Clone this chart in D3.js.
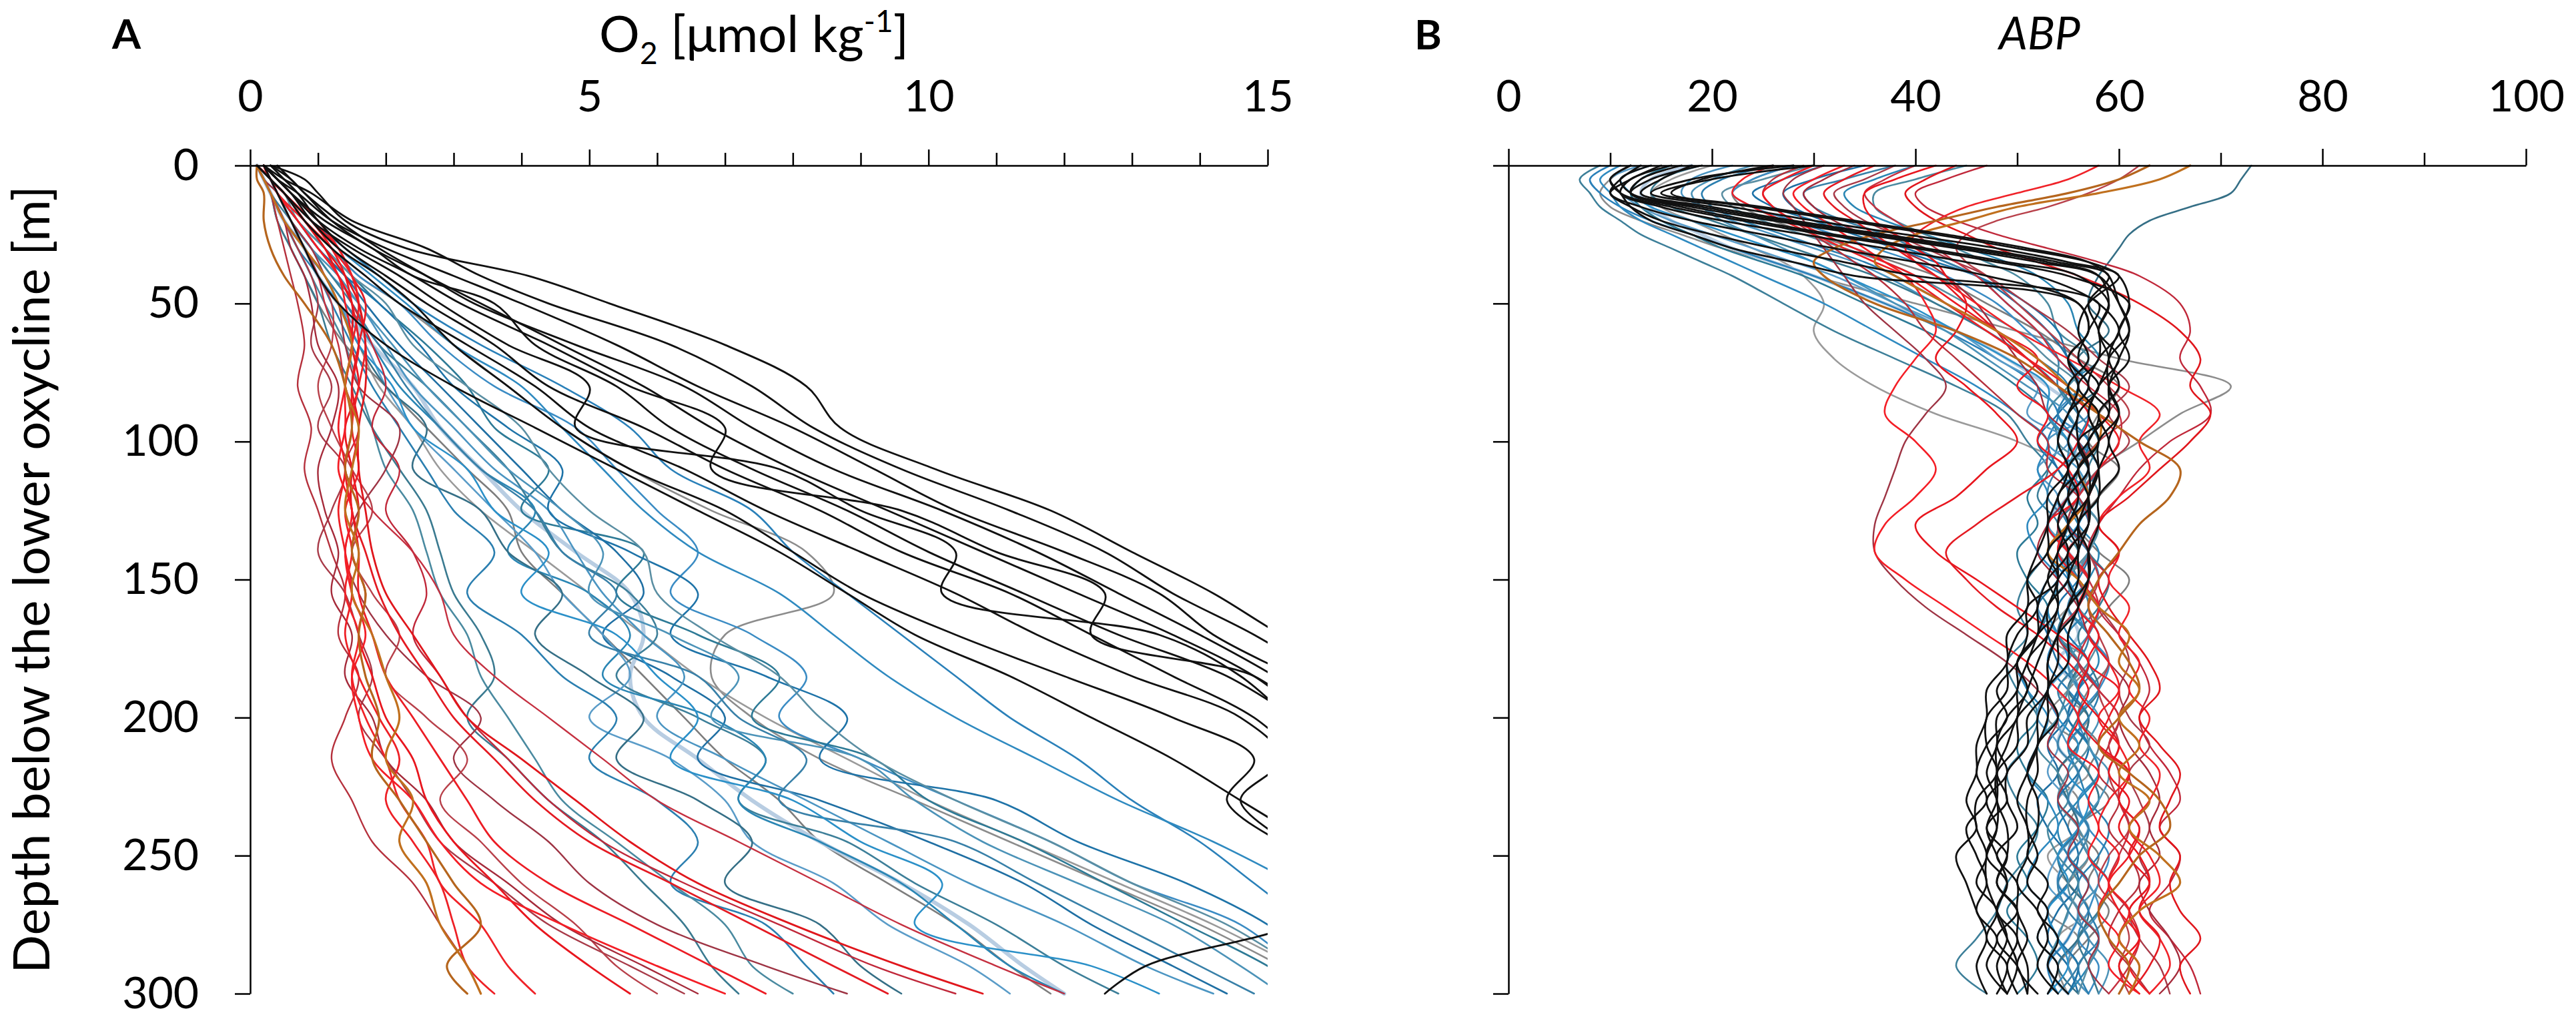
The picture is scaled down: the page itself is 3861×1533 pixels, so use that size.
<!DOCTYPE html>
<html>
<head>
<meta charset="utf-8">
<script src="https://cdn.jsdelivr.net/npm/d3@7"></script>
<style>
  body { margin: 0; background: #fff; }
  .axis path, .axis line { stroke: #000; stroke-width: 2.5; }
  .profile { fill: none; stroke-linejoin: round; stroke-linecap: round; }
</style>
</head>
<body>
<script>
// depth grids [m below the lower oxycline]
const depthA = [0,5,10,20,30,40,50,65,80,95,110,125,140,155,170,185,200,215,230,245,260,275,290,300];
const depthB = [0,5,10,15,20,25,30,35,40,50,60,70,80,90,100,110,120,130,140,150,160,170,180,190,200,210,220,230,240,250,260,270,280,290,300];

const o2Ticks = d3.range(0, 16);
const o2TickLabels = [0, 5, 10, 15];
const abpTicks = d3.range(0, 101, 10);
const abpTickLabels = [0, 20, 40, 60, 80, 100];
const depthTicks = [0, 50, 100, 150, 200, 250, 300];

// O2 profiles, one array per cast, values on depthA
const o2Black = [
  [0.3,0.8,1.0,1.4,2.3,4.1,5.3,7.0,8.2,8.7,10.1,11.8,13.0,14.2,15.2,16.4],
  [0.2,0.5,0.9,1.5,2.6,3.4,4.4,6.2,7.4,8.3,9.6,11.2,12.6,13.6,14.8,15.8],
  [0.2,0.4,0.7,1.2,2.0,3.0,4.0,5.4,6.6,8.0,9.2,10.4,12.0,13.4,14.2,15.4],
  [0.3,0.6,0.8,1.3,1.9,2.6,3.3,4.8,6.4,7.4,8.6,10.2,11.6,12.8,14.0,15.1,16.0],
  [0.2,0.4,0.6,1.0,1.6,2.4,3.1,4.4,5.6,7.0,6.8,9.6,11.0,12.6,12.4,14.8,15.6],
  [0.1,0.3,0.5,0.9,1.5,2.2,2.8,3.8,5.0,4.8,7.8,9.0,10.4,10.2,13.4,14.6,15.3],
  [0.2,0.4,0.6,1.1,1.8,2.4,3.6,4.2,5.4,6.2,7.4,8.8,10.0,11.4,12.8,14.4,15.4],
  [0.3,0.5,0.7,1.0,1.4,2.0,2.6,3.6,4.4,5.8,7.0,8.4,9.6,11.2,12.4,13.6,14.8,15.5],
  [0.1,0.3,0.5,0.8,1.2,1.7,2.2,3.2,4.2,5.0,6.4,7.6,9.0,10.4,11.6,13.0,14.6,15.2,14.6,15.3],
  [0.2,0.4,0.6,0.9,1.3,1.9,2.4,3.0,3.8,4.6,5.6,7.0,8.0,9.0,10.4,12.0,13.6,14.8,14.4,15.2],
  [0.2,0.3,0.4,0.6,0.8,1.0,1.3,2.0,3.0,4.2,5.4,6.6,7.8,8.8,9.8,11.2,12.4,13.6,14.6,15.6],
  [0.4,0.6,0.8,1.2,1.8,2.6,3.4,4.6,5.8,6.8,8.0,9.4,10.8,12.2,13.6,14.8,15.6,16.4,17.0,17.2,16.4,15.4,13.2,12.6]
];
const o2Blue = [
  [0.2,0.3,0.5,0.9,1.4,1.9,2.4,3.4,4.6,5.6,6.2,7.4,8.0,8.8,9.6,10.4,11.2,12.2,13.0,14.0,14.8,15.6],
  [0.2,0.3,0.4,0.8,1.2,1.6,2.2,2.8,3.6,4.8,5.4,6.0,6.6,6.2,7.4,8.2,7.8,9.0,10.4,11.8,13.0,14.6,15.4],
  [0.1,0.3,0.4,0.7,1.1,1.5,1.9,2.6,3.2,3.6,4.4,4.0,5.8,5.4,6.6,7.8,7.4,9.2,10.0,11.4,12.6,13.8,15.0,15.6],
  [0.2,0.3,0.4,0.7,1.0,1.4,1.7,2.2,2.8,3.4,4.0,4.6,5.4,5.8,5.2,6.2,7.0,6.6,8.4,10.0,11.4,12.4,13.6,14.4],
  [0.2,0.3,0.4,0.6,0.9,1.2,1.6,2.0,2.4,3.0,3.6,4.4,4.8,5.2,5.8,6.4,6.0,7.0,8.2,9.4,10.6,12.0,13.2,14.2],
  [0.1,0.2,0.3,0.6,0.9,1.2,1.5,1.9,2.6,3.2,3.8,4.2,4.6,5.6,6.0,5.4,6.6,7.6,7.2,8.8,9.8,11.0,12.0,12.8],
  [0.2,0.3,0.4,0.6,0.8,1.1,1.4,1.8,2.2,2.8,3.4,4.2,3.8,5.0,5.6,5.2,6.8,7.6,7.2,8.4,9.6,10.4,11.2,12.0],
  [0.1,0.2,0.3,0.5,0.8,1.0,1.3,1.7,2.0,2.4,3.0,3.6,4.2,4.6,5.2,5.6,5.0,6.2,7.0,7.4,8.6,9.4,10.6,11.2],
  [0.2,0.3,0.4,0.6,0.8,1.1,1.3,1.6,2.0,2.6,2.4,3.4,3.8,4.6,4.2,5.0,5.8,5.4,6.6,7.4,7.0,8.4,9.0,9.6],
  [0.1,0.2,0.3,0.5,0.7,1.0,1.2,1.5,1.8,2.2,2.6,3.0,3.6,3.2,4.0,4.6,5.4,5.0,6.0,6.6,6.2,7.6,8.2,8.6],
  [0.1,0.2,0.3,0.5,0.7,0.9,1.1,1.4,1.6,1.8,2.0,2.4,2.6,2.8,3.2,3.4,3.8,4.2,4.6,5.4,6.2,7.0,7.4,8.0],
  [0.1,0.2,0.3,0.4,0.6,0.8,1.0,1.2,1.5,1.8,2.2,2.6,2.8,3.0,3.4,3.6,3.2,3.8,4.4,5.2,5.8,6.4,6.8,7.2],
  [0.2,0.3,0.5,0.9,1.3,1.8,2.3,3.0,4.0,4.6,5.2,5.8,6.6,7.8,8.6,9.4,10.4,11.6,12.8,14.2,15.4],
  [0.2,0.3,0.4,0.7,1.0,1.4,1.9,2.5,3.0,3.8,4.6,4.4,5.6,6.6,6.2,7.6,8.8,8.4,11.0,12.2,13.8,15.0,15.8],
  [0.1,0.2,0.4,0.6,0.9,1.3,1.6,2.1,2.6,3.2,3.8,4.6,5.2,5.0,6.2,7.2,6.8,9.0,9.8,10.8,12.2,13.6,14.6,15.2],
  [0.2,0.3,0.4,0.6,0.8,1.1,1.4,1.9,2.3,2.8,3.4,4.2,4.6,5.4,5.0,6.6,7.2,8.2,7.8,10.4,11.6,12.8,14.0,14.8],
  [0.1,0.2,0.3,0.5,0.8,1.0,1.3,1.6,2.1,2.4,3.2,3.6,4.4,4.0,5.4,6.0,6.6,6.2,8.0,9.0,10.2,9.8,12.4,13.4],
  [0.2,0.3,0.5,0.7,1.1,1.5,2.0,2.4,3.2,4.0,4.4,5.0,5.8,6.0,6.8,7.8,8.4,9.2,10.4,11.8,13.0,14.4,15.4]
];
const o2Red = [
  [0.2,0.3,0.5,0.9,1.2,1.4,1.5,1.6,1.5,1.5,1.4,1.5,1.6,1.6,1.8,2.0,2.4,2.8,3.2,3.6,4.4,5.6,6.8,7.6],
  [0.2,0.3,0.5,0.8,1.1,1.3,1.5,1.5,1.6,1.4,1.5,1.6,1.5,1.7,1.6,1.8,2.0,2.4,2.6,3.0,3.6,4.2,5.0,5.6],
  [0.1,0.3,0.4,0.8,1.2,1.5,1.6,1.7,1.6,1.5,1.6,1.4,1.5,1.4,1.6,1.5,1.7,2.0,2.2,2.6,2.8,3.4,3.8,4.2],
  [0.2,0.3,0.5,0.9,1.3,1.5,1.7,1.6,1.5,1.6,1.5,1.5,1.7,1.9,2.2,2.6,3.0,3.6,4.2,5.0,6.2,7.4,8.6,9.4],
  [0.2,0.4,0.6,1.0,1.3,1.5,1.6,1.5,1.4,1.3,1.4,1.3,1.4,1.5,1.4,1.6,1.9,2.2,2.0,2.4,2.8,3.0,3.2,3.6],
  [0.2,0.3,0.5,0.8,1.1,1.4,1.6,1.7,1.7,1.6,1.6,1.7,1.8,2.0,2.4,2.8,3.2,4.0,4.8,5.6,6.6,8.0,9.6,10.8],
  [0.1,0.3,0.4,0.7,1.0,1.3,1.4,1.5,1.4,1.4,1.3,1.5,1.4,1.5,1.7,1.5,1.6,1.8,2.4,2.8,3.4,4.6,6.0,7.0]
];
const o2DarkRed = [
  [0.1,0.2,0.3,0.4,0.5,0.6,0.7,0.8,0.7,0.9,0.8,1.0,1.2,1.4,1.3,1.6,1.4,1.2,1.5,1.8,2.4,2.8,3.2,3.4],
  [0.1,0.2,0.3,0.5,0.7,0.9,1.0,0.9,1.2,1.0,1.4,1.2,1.0,1.4,1.6,1.8,1.6,2.0,2.4,2.8,3.6,4.4,5.6,6.4],
  [0.2,0.3,0.4,0.7,1.0,1.3,1.5,1.8,2.0,1.8,2.2,2.0,2.4,2.6,2.4,2.8,3.2,3.8,4.4,5.2,6.4,7.8,9.2,10.4],
  [0.1,0.2,0.4,0.6,0.9,1.1,1.3,1.4,1.6,2.2,2.0,1.6,1.4,1.6,2.0,2.6,3.4,3.0,3.6,4.4,5.0,6.0,7.6,8.8],
  [0.2,0.3,0.4,0.6,0.8,1.0,1.2,1.2,1.0,1.2,1.5,1.8,1.5,1.8,2.2,2.0,2.6,3.2,2.8,3.4,4.0,4.8,5.4,6.0],
  [0.1,0.2,0.3,0.5,0.8,1.0,1.1,1.3,1.4,1.6,1.4,1.8,2.4,2.8,3.0,3.6,4.4,5.2,6.0,7.2,8.4,9.6,11.0,12.0],
  [0.1,0.2,0.3,0.5,0.6,0.8,0.9,1.0,1.3,1.2,1.0,1.1,1.3,1.2,1.5,1.4,1.8,2.0,2.6,3.0,3.8,4.6,5.8,6.6]
];
const o2Orange = [
  [0.1,0.1,0.2,0.2,0.3,0.5,0.8,1.2,1.4,1.5,1.4,1.6,1.5,1.7,1.6,1.7,1.9,1.8,2.2,2.6,3.0,3.4,2.9,3.2],
  [0.1,0.2,0.3,0.5,0.8,1.1,1.3,1.5,1.4,1.6,1.5,1.4,1.6,1.5,1.8,2.0,2.2,2.0,2.4,2.2,2.6,2.8,3.2,3.4]
];
const o2Grey = [
  [0.2,0.3,0.5,0.8,1.2,1.6,2.2,3.0,3.8,4.6,5.6,6.8,8.2,8.6,7.0,6.8,7.4,8.4,9.8,11.2,12.6,14.0,15.2],
  [0.1,0.2,0.3,0.5,0.8,1.0,1.3,1.6,1.9,2.4,2.8,3.4,4.2,5.0,5.8,6.6,7.6,8.8,10.0,11.4,12.8,14.2,15.4],
  [0.1,0.2,0.3,0.4,0.6,0.8,1.0,1.4,2.0,2.6,3.2,3.8,4.0,4.6,5.2,5.8,6.4,7.0,7.8,8.4,9.4,10.4,11.2,11.8]
];
const o2Pale = [
  [0.1,0.2,0.3,0.5,0.8,1.0,1.3,1.8,2.4,2.8,3.4,4.0,4.8,5.6,5.8,5.6,5.8,6.6,7.4,8.4,9.6,10.6,11.4,12.0]
];

// ABP profiles, same casts in the same order, values on depthB
const abpBlack = [
  [14,11,12,18,26,35,44,52,58,60,61,59,59,60,58,58,58,56,57,57,55,54,53,53,51,51,49,49,50,48,50,50,51,50,52],
  [18,15,13,20,28,37,46,54,59,57,58,58,56,58,57,55,56,55,54,53,54,52,50,51,49,48,49,47,48,47,47,48,49,48,49],
  [12,10,11,16,23,31,40,48,55,61,60,61,59,60,59,60,58,58,57,57,56,55,55,53,54,52,52,51,51,52,51,53,52,54,53],
  [28,18,14,22,30,39,48,55,60,57,56,57,55,56,55,56,54,55,53,54,51,51,50,48,49,47,46,47,45,46,47,46,48,47,49],
  [16,12,11,15,21,29,37,45,52,58,60,58,57,59,56,57,57,55,56,54,54,53,51,52,50,49,48,49,47,49,48,50,48,50,51],
  [30,20,15,24,33,42,50,57,60,61,60,59,60,58,59,58,57,57,56,56,55,54,54,53,53,52,51,52,52,51,53,52,54,53,55],
  [13,11,10,13,18,25,32,40,47,56,57,55,56,55,54,55,53,53,52,51,51,49,49,47,47,46,46,45,46,44,45,46,47,46,47],
  [19,14,12,19,27,36,45,53,58,59,58,60,58,57,58,56,57,57,55,55,53,53,52,51,50,50,48,48,49,49,48,50,50,51,51],
  [15,12,10,12,15,20,26,33,40,58,57,56,58,56,56,57,55,54,55,53,52,52,50,50,48,48,47,48,48,47,49,48,49,50,49],
  [26,19,16,25,34,43,51,57,59,60,61,60,59,59,57,58,57,56,56,55,56,54,53,53,52,52,51,50,51,51,50,52,53,52,54],
  [17,13,12,17,24,32,41,49,56,59,58,59,58,57,58,56,55,56,54,54,53,52,51,50,50,48,48,48,47,48,49,48,50,49,50],
  [12,10,11,12,14,18,22,28,34,56,57,55,57,55,54,55,54,53,53,51,52,50,49,49,47,47,48,46,46,47,46,48,47,49,48]
];
const abpBlue = [
  [10,8,9,11,14,18,22,26,30,37,43,48,52,54,53,54,56,55,53,55,56,54,53,55,57,56,54,55,57,55,54,56,55,53,54],
  [28,24,22,24,28,32,36,40,43,48,51,54,56,54,57,56,57,55,57,58,56,57,59,58,56,57,58,56,57,59,58,57,56,58,57],
  [16,13,12,13,15,18,21,25,29,35,41,46,50,53,54,53,51,52,50,51,53,52,50,51,52,50,51,53,52,50,51,49,51,52,50],
  [35,30,27,28,31,35,39,43,46,50,53,55,56,54,52,54,55,53,55,54,52,53,54,56,55,53,54,52,53,55,56,54,53,55,56],
  [22,18,17,19,22,26,30,34,37,42,47,51,54,57,53,56,57,55,54,56,58,57,55,56,54,55,57,58,56,55,57,58,56,55,57],
  [9,7,8,9,11,13,16,19,22,27,32,38,44,49,51,53,52,54,53,51,50,51,49,50,52,51,49,50,52,51,49,48,46,44,47],
  [40,36,33,34,37,41,45,49,52,55,56,58,55,57,56,57,55,56,58,57,55,57,58,56,55,57,58,56,54,55,57,56,58,57,55],
  [13,10,11,13,16,20,24,28,32,38,44,48,52,51,55,52,54,53,55,53,52,54,55,53,52,54,53,55,56,54,53,55,54,56,55],
  [73,72,71,67,63,61,60,59,58,57,59,56,58,55,57,55,56,54,55,57,55,54,56,55,57,56,54,55,56,54,55,57,56,54,56],
  [26,21,19,20,23,27,31,35,38,43,48,52,55,54,56,58,56,57,55,56,57,55,56,58,57,55,56,57,59,58,56,57,58,56,57],
  [45,40,36,36,38,41,44,47,50,53,54,57,55,53,55,56,55,54,56,55,53,54,56,55,54,52,54,55,53,54,56,55,54,53,55],
  [19,15,14,16,20,24,28,32,36,42,47,51,54,56,58,57,58,56,57,59,58,56,57,58,56,55,57,58,56,57,59,58,56,57,58],
  [11,9,10,11,13,16,19,22,25,31,36,41,46,50,53,52,53,51,52,54,53,52,50,51,53,52,51,53,54,52,51,53,52,54,53],
  [31,27,24,26,30,34,38,42,46,51,54,55,57,55,57,56,54,55,57,56,54,55,57,56,55,57,56,54,55,56,55,53,54,56,55],
  [24,20,18,19,21,24,27,30,33,38,43,47,51,55,56,55,56,58,57,56,58,57,55,56,58,57,59,58,56,57,58,56,57,59,58],
  [38,33,29,30,33,37,40,43,46,49,52,54,54,56,58,54,53,55,54,56,55,57,56,54,55,54,56,55,57,56,54,55,57,56,54],
  [14,11,12,14,18,22,26,30,33,39,44,49,53,53,55,55,57,56,54,55,53,54,55,53,54,56,55,57,56,54,55,53,54,55,53],
  [30,25,21,22,25,29,33,37,40,45,50,53,56,55,54,57,56,58,57,55,56,58,57,55,56,57,55,54,56,57,55,56,58,57,56]
];
const abpRed = [
  [30,27,25,26,28,31,34,37,40,44,48,52,50,53,52,55,56,53,55,57,56,58,57,60,59,58,61,60,62,61,59,60,62,61,63],
  [42,38,35,35,36,38,40,42,43,45,44,42,45,48,50,47,44,40,42,46,50,54,57,56,58,60,59,61,60,62,63,61,62,60,62],
  [58,55,50,45,42,40,39,40,42,46,50,55,60,64,62,63,60,58,60,59,61,60,62,61,63,62,64,63,61,63,64,62,64,65,63],
  [36,33,31,32,34,36,38,40,42,45,48,51,54,57,56,54,50,46,43,45,48,52,55,57,56,58,61,60,62,61,63,62,64,63,61],
  [26,23,22,24,27,30,33,36,39,43,47,51,55,58,60,58,57,55,54,56,58,57,59,60,58,60,61,59,58,60,59,61,60,62,61],
  [44,41,39,40,42,45,48,52,56,62,66,68,67,69,67,64,61,58,60,58,59,61,63,64,62,64,66,65,64,66,65,66,68,66,67],
  [33,30,28,29,31,33,35,37,39,41,42,40,38,37,40,42,40,37,36,39,43,47,51,54,56,55,58,57,58,57,59,58,60,59,62]
];
const abpDarkRed = [
  [29,26,25,26,28,30,32,34,36,39,41,44,47,50,53,53,56,57,55,57,56,54,56,58,60,59,58,60,59,61,62,60,59,61,63],
  [38,35,32,33,35,38,41,44,47,51,55,58,61,59,61,58,56,55,57,56,58,60,61,60,61,63,61,62,63,62,63,61,62,64,65],
  [47,43,40,41,44,48,53,58,62,66,67,66,68,69,65,62,60,58,57,59,58,60,62,63,62,63,65,66,64,66,65,63,65,67,68],
  [31,28,27,28,29,30,31,32,33,35,38,41,43,41,39,38,37,36,36,38,41,45,49,52,54,53,55,54,56,55,57,56,58,57,59],
  [62,60,57,53,48,45,44,45,47,50,53,56,59,61,58,56,57,56,57,58,57,58,59,58,59,60,59,60,61,59,58,60,61,60,61],
  [40,37,35,36,38,40,42,44,46,49,52,54,57,60,60,58,56,54,55,57,58,57,56,58,60,59,60,60,61,60,59,61,62,61,59],
  [34,31,29,30,32,35,38,41,43,46,48,50,52,53,56,57,55,53,52,54,56,57,59,61,60,61,63,64,63,64,62,63,65,66,64]
];
const abpOrange = [
  [63,60,55,48,42,36,32,30,31,36,44,50,54,58,62,66,65,62,60,58,57,59,61,62,60,58,61,64,65,62,60,58,59,61,60],
  [67,64,58,50,45,40,37,36,38,43,48,52,55,58,58,56,57,55,53,56,58,61,60,62,60,62,60,63,61,64,66,62,60,62,61]
];
const abpGrey = [
  [12,10,9,10,13,17,21,26,30,40,50,60,71,66,62,58,56,55,57,55,56,54,57,55,53,56,54,56,55,57,55,53,56,54,55],
  [20,16,14,15,18,21,24,27,29,31,30,32,36,42,50,55,55,56,54,57,55,53,56,54,57,55,57,54,56,53,55,57,54,56,55],
  [28,24,22,23,26,30,34,38,42,47,52,56,60,58,57,60,58,56,58,61,59,57,59,57,56,58,57,59,56,58,57,59,57,55,57]
];
const abpPale = [
  [18,14,13,14,16,19,22,26,30,37,44,49,53,56,55,57,55,53,55,57,55,56,54,56,55,54,56,55,57,55,54,56,55,53,55]
];

// line colours
const blueColors = ['#2a80b9','#3b8cc4','#2d7a96','#1f6fa3','#4b95c2','#3d7f99','#2a86b4','#5a9cc8','#356f86',
                    '#2b7fb0','#4a8aa0','#3a7a90','#2f8ac0','#1e73a8','#4c93b8','#3880a8','#2b90c8','#5b8fa3'];
const redColors = ['#ec1c24','#e8161e','#f02228','#e41a22','#ee2026','#e0161c','#f41e26'];
const darkRedColors = ['#b5303c','#a83a48','#c0283a','#9e3444','#b8404a','#c53040','#a52a3a'];
const greyColors = ['#8c8c8c','#9a9a9a','#7d7d7d'];
const orangeColors = ['#b5651d','#c0701e'];
const paleColors = ['#b8cde2'];
const blackColors = ['#111111'];

const width = 3861;
const height = 1533;
const font = "Lato, 'Open Sans', 'DejaVu Sans', sans-serif";

const svg = d3.select("body")
  .append("svg")
  .attr("width", width)
  .attr("height", height)
  .style("font-family", font);

const yScale = d3.scaleLinear().domain([0, 300]).range([248, 1489]);
const xA = d3.scaleLinear().domain([0, 15]).range([375, 1900]);
const xB = d3.scaleLinear().domain([0, 100]).range([2261, 3786]);

// drawing order: pale/grey underneath, black on top
const layersA = [
  {data: o2Grey, colors: greyColors, w: 2.6},
  {data: o2Pale, colors: paleColors, w: 6},
  {data: o2Blue, colors: blueColors, w: 2.6},
  {data: o2DarkRed, colors: darkRedColors, w: 2.4},
  {data: o2Red, colors: redColors, w: 2.8},
  {data: o2Orange, colors: orangeColors, w: 3.2},
  {data: o2Black, colors: blackColors, w: 2.8}
];
const layersB = [
  {data: abpGrey, colors: greyColors, w: 2.6},
  {data: abpPale, colors: paleColors, w: 5},
  {data: abpBlue, colors: blueColors, w: 2.6},
  {data: abpDarkRed, colors: darkRedColors, w: 2.4},
  {data: abpRed, colors: redColors, w: 2.6},
  {data: abpOrange, colors: orangeColors, w: 3.2},
  {data: abpBlack, colors: blackColors, w: 2.8}
];

function drawPanel(id, x, depth, layers) {
  const [x0, x1] = x.range();
  svg.append("clipPath").attr("id", id)
    .append("rect")
    .attr("x", x0 - 2).attr("y", yScale(0) - 3)
    .attr("width", x1 - x0 + 2).attr("height", yScale(300) - yScale(0) + 6);

  const line = d3.line()
    .defined((d, i) => i < depth.length && d != null)
    .x((d) => x(d))
    .y((d, i) => yScale(depth[i]))
    .curve(d3.curveCatmullRom.alpha(0.5));

  const g = svg.append("g").attr("clip-path", "url(#" + id + ")");
  layers.forEach((layer) => {
    g.append("g").selectAll("path")
      .data(layer.data)
      .join("path")
      .attr("class", "profile")
      .attr("d", line)
      .attr("stroke", (d, i) => layer.colors[i % layer.colors.length])
      .attr("stroke-width", layer.w);
  });
}

drawPanel("clipA", xA, depthA, layersA);
drawPanel("clipB", xB, depthB, layersB);

// top axes
const xAxisA = d3.axisTop(xA)
  .tickValues(o2Ticks)
  .tickSize(24)
  .tickSizeOuter(0)
  .tickPadding(57)
  .tickFormat((d) => o2TickLabels.includes(d) ? d : "");

const gxA = svg.append("g")
  .attr("class", "axis")
  .attr("transform", "translate(0," + yScale(0) + ")")
  .call(xAxisA)
  .attr("font-size", 66)
  .attr("font-family", font);
gxA.selectAll(".tick line").attr("y2", (d) => o2TickLabels.includes(d) ? -24 : -19);

const xAxisB = d3.axisTop(xB)
  .tickValues(abpTicks)
  .tickSize(25)
  .tickSizeOuter(0)
  .tickPadding(56)
  .tickFormat((d) => abpTickLabels.includes(d) ? d : "");

const gxB = svg.append("g")
  .attr("class", "axis")
  .attr("transform", "translate(0," + yScale(0) + ")")
  .call(xAxisB)
  .attr("font-size", 66)
  .attr("font-family", font);
gxB.selectAll(".tick line").attr("y2", (d) => abpTickLabels.includes(d) ? -25 : -19);

// left axes
svg.append("g")
  .attr("class", "axis")
  .attr("transform", "translate(" + xA(0) + ",0)")
  .call(d3.axisLeft(yScale).tickValues(depthTicks).tickSize(23).tickSizeOuter(0).tickPadding(54))
  .attr("font-size", 66)
  .attr("font-family", font);

svg.append("g")
  .attr("class", "axis")
  .attr("transform", "translate(" + xB(0) + ",0)")
  .call(d3.axisLeft(yScale).tickValues(depthTicks).tickSize(23).tickSizeOuter(0).tickFormat(""));

// titles
svg.append("text")
  .attr("x", 168)
  .attr("y", 73)
  .attr("font-size", 62)
  .attr("font-weight", "bold")
  .text("A");

svg.append("text")
  .attr("x", 2120)
  .attr("y", 74)
  .attr("font-size", 62)
  .attr("font-weight", "bold")
  .text("B");

const o2Label = svg.append("text")
  .attr("x", 1130)
  .attr("y", 78)
  .attr("font-size", 76)
  .attr("text-anchor", "middle");
o2Label.append("tspan").text("O");
o2Label.append("tspan").attr("font-size", 46).attr("dy", 18).text("2");
o2Label.append("tspan").attr("dy", -18).text(" [\u03bcmol kg");
o2Label.append("tspan").attr("font-size", 46).attr("dy", -30).text("-1");
o2Label.append("tspan").attr("dy", 30).text("]");

svg.append("text")
  .attr("x", 3057)
  .attr("y", 74)
  .attr("font-size", 68)
  .attr("font-style", "italic")
  .attr("text-anchor", "middle")
  .text("ABP");

svg.append("text")
  .attr("transform", "translate(74," + (yScale(0) + yScale(300)) / 2 + ") rotate(-90)")
  .attr("font-size", 76)
  .attr("text-anchor", "middle")
  .text("Depth below the lower oxycline [m]");
</script>
</body>
</html>
